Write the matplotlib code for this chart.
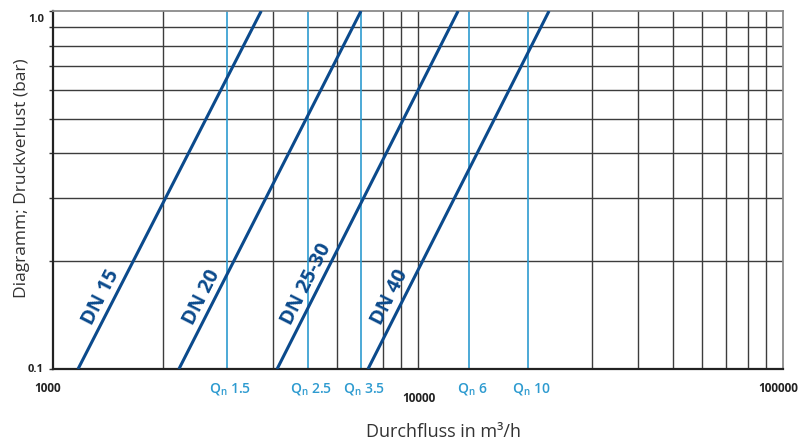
import numpy as np
import matplotlib.pyplot as plt
from matplotlib.transforms import offset_copy, blended_transform_factory

plt.rcParams['font.family'] = ['Open Sans', 'DejaVu Sans']
plt.rcParams['mathtext.default'] = 'regular'

# pressure grid (bar) and flow grid (l/h)
p_grid = [0.2, 0.3, 0.4, 0.5, 0.6, 0.7, 0.8, 0.9]
q_grid = [2000, 4000, 6000, 8000, 9000, 10000, 30000, 40000, 50000, 60000, 70000, 80000, 90000]

# nominal flow markers
qn_labels = ['1.5', '2.5', '3.5', '6', '10']
qn_flow = [3000, 5000, 7000, 13800, 20000]

# meter curves: flow at 0.1 bar and at 1.0 bar
dn_labels = ['DN 15', 'DN 20', 'DN 25-30', 'DN 40']
q_at_p01 = [1171, 2213, 4111, 7295]
q_at_p10 = [3720, 6980, 12880, 22860]

dark_blue = '#0b4a8c'
light_blue = '#2e9bd0'

fig = plt.figure(figsize=(8.1, 4.41), dpi=100)
ax = fig.add_axes([53 / 810, 1 - 369 / 441, 730 / 810, 358 / 441])
ax.set_xscale('log')
ax.set_yscale('log')
ax.set_xlim(1000, 100000)
ax.set_ylim(0.1, 1.0)

for q in q_grid:
    ax.axvline(q, color='#3c3c3c', lw=1.0, zorder=1)
for p in p_grid:
    ax.axhline(p, color='#3c3c3c', lw=1.0, zorder=1)
for q in qn_flow:
    ax.axvline(q, color=light_blue, lw=1.2, zorder=2)

for spine in ['top', 'right']:
    ax.spines[spine].set_color('#8a8a8a')
    ax.spines[spine].set_linewidth(1.3)
for spine in ['left', 'bottom']:
    ax.spines[spine].set_color('#222222')
    ax.spines[spine].set_linewidth(1.6)

ax.set_xticks([])
ax.set_xticks([], minor=True)
ax.set_yticks([0.1] + p_grid + [1.0])
ax.set_yticks([], minor=True)
ax.set_yticklabels([])
ax.tick_params(axis='y', length=3, width=1.0, color='#333333', direction='out')

for q0, q1, lab in zip(q_at_p01, q_at_p10, dn_labels):
    ax.plot([q0, q1], [0.1, 1.0], color=dark_blue, lw=2.2, zorder=3, solid_capstyle='butt')

fig.canvas.draw()
for q0, q1, lab in zip(q_at_p01, q_at_p10, dn_labels):
    a = ax.transData.transform((q0, 0.1))
    b = ax.transData.transform((q1, 1.0))
    ang = np.degrees(np.arctan2(b[1] - a[1], b[0] - a[0]))
    p_lab = 0.134
    q_lab = q0 * (q1 / q0) ** (np.log10(p_lab / 0.1))
    tr = offset_copy(ax.transData, fig=fig, x=-14, y=0, units='dots')
    ax.text(q_lab, p_lab, lab, transform=tr, rotation=ang, rotation_mode='anchor',
            ha='left', va='center', color=dark_blue, fontsize=14.5, fontweight='bold', zorder=4)

bt = blended_transform_factory(ax.transData, ax.transAxes)
for q, lab in zip(qn_flow, qn_labels):
    tr = offset_copy(bt, fig=fig, x=3, y=-20, units='dots')
    ax.text(q, 0, 'Q$_{n}$ ' + lab, transform=tr, ha='center', va='center',
            color=light_blue, fontsize=10, fontweight='semibold')

for q, dy in [(1000, -20), (10000, -29), (100000, -20)]:
    tr = offset_copy(bt, fig=fig, x=-5 if q != 10000 else 1, y=dy, units='dots')
    ax.text(q, 0, f'{q}', transform=tr, ha='center', va='center',
            color='#222222', fontsize=8.5, fontweight='bold')

yt = blended_transform_factory(ax.transAxes, ax.transData)
ax.text(0, 0.1, '0.1', transform=offset_copy(yt, fig=fig, x=-9, y=-1, units='dots'),
        ha='right', va='center', color='#222222', fontsize=8, fontweight='bold')
ax.text(0, 1.0, '1.0', transform=offset_copy(yt, fig=fig, x=-9, y=-8, units='dots'),
        ha='right', va='center', color='#222222', fontsize=8, fontweight='bold')

fig.text(22 / 810, 1 - 178 / 441, 'Diagramm; Druckverlust (bar)', rotation=90,
         ha='center', va='center', fontsize=12.5, color='#333333')
fig.text(444 / 810, 1 - 432 / 441, 'Durchfluss in m³/h',
         ha='center', va='center', fontsize=13, color='#333333')

fig.savefig('out.png', dpi=100)
